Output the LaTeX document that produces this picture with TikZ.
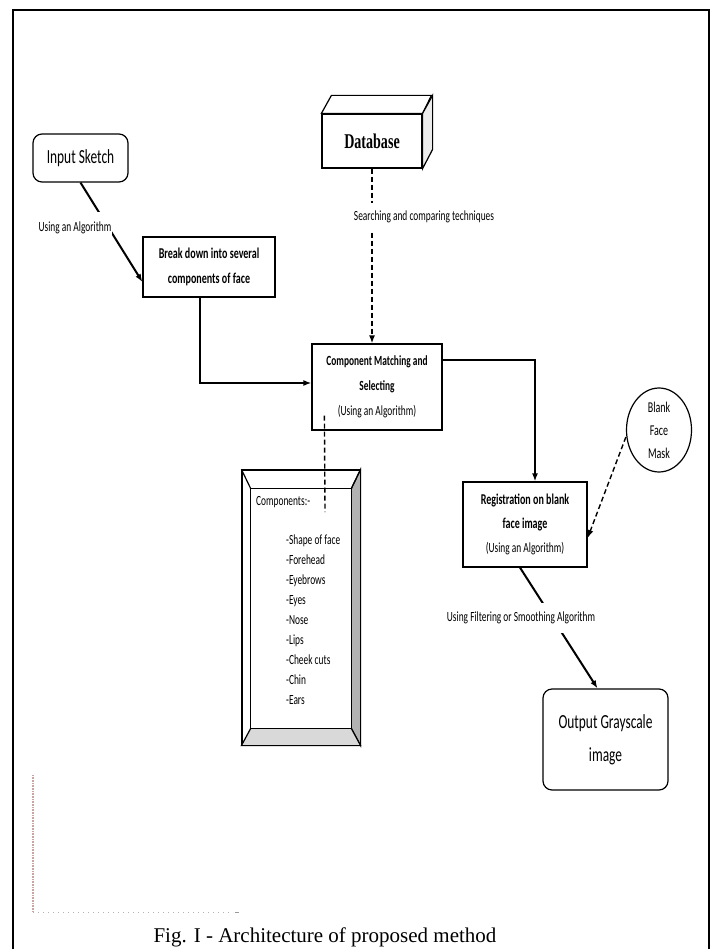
\documentclass[tikz,border=0pt]{standalone}
\usepackage{fontspec}
\setmainfont{Carlito}
\newfontfamily\calf[FakeStretch=0.67]{Carlito}
\newfontfamily\timesf[FakeStretch=0.67]{Liberation Serif}
\newfontfamily\capf{Liberation Serif}
\usetikzlibrary{arrows.meta,shapes.geometric,calc}

\begin{document}
\begin{tikzpicture}[x=1pt,y=-1pt,
  box/.style={draw, line width=1.2pt, inner sep=0pt, align=center},
  rbox/.style={box, rounded corners=9pt},
  tip/.style={-{Latex[length=8pt,width=6pt]}},
  flow/.style={tip, line width=2pt},
  dflow/.style={tip, line width=1.4pt, dash pattern=on 5pt off 3pt},
  dline/.style={line width=1.4pt, dash pattern=on 5pt off 3pt},
  lbl/.style={fill=white, inner xsep=1pt, font=\calf\fontsize{14}{16}\selectfont},
  item/.style={anchor=base west, inner sep=0pt, font=\calf\fontsize{14}{16}\selectfont}]
\useasboundingbox (0,0) rectangle (714,949);

% page frame
\draw[line width=2.5pt] (13,949) -- (13,10) -- (709,10) -- (709,949);

% boxes
\node[rbox, minimum width=95pt, minimum height=48pt,
      font=\calf\fontsize{20}{24}\selectfont] (inp) at (80.5,158) {Input Sketch};

\node[box, minimum width=132pt, minimum height=60pt,
      font=\calf\bfseries\fontsize{15}{25}\selectfont] (brk) at (209,267)
      {Break down into several\\components of face};

% database block with top and side faces
\node[box, fill=white, minimum width=100pt, minimum height=54pt,
      font=\timesf\bfseries\fontsize{21}{24}\selectfont] (db) at (372,141) {Database};
\draw[line width=1.2pt, fill=white] (db.north west) -- ++(10,-18) -- ++(100,0)
      -- (db.north east) -- cycle;
\draw[line width=1.2pt, fill=gray!15] (db.north east) -- ++(10,-18) -- ++(0,54)
      -- (db.south east) -- cycle;

\node[box, minimum width=130pt, minimum height=86pt,
      font=\calf\fontsize{14}{25}\selectfont] (cm) at (377,387)
      {\textbf{Component Matching and}\\\textbf{Selecting}\\(Using an Algorithm)};

\node[box, minimum width=124pt, minimum height=85pt,
      font=\calf\fontsize{15}{24}\selectfont] (reg) at (525,524.5)
      {\textbf{Registration on blank}\\\textbf{face image}\\{\fontsize{14}{24}\selectfont(Using an Algorithm)}};

\node[ellipse, draw, line width=1.2pt, minimum width=65pt, minimum height=84pt,
      inner sep=0pt, align=center, font=\calf\fontsize{15}{23}\selectfont]
      (mask) at (659,430) {Blank\\Face\\Mask};

\node[rbox, minimum width=125pt, minimum height=101pt,
      font=\calf\fontsize{20}{33}\selectfont] (out) at (605.5,739.5)
      {Output Grayscale\\image};

% bevelled components panel
\node[draw, line width=1.2pt, minimum width=118pt, minimum height=275pt,
      inner sep=0pt] (comp) at (301,607.5) {};
\node[minimum width=100pt, minimum height=239pt, inner sep=0pt]
      (compin) at (301,608.5) {};
\draw[line width=1.2pt, fill=gray!60] (comp.north east) -- (comp.south east)
      -- (compin.south east) -- (compin.north east) -- cycle;
\draw[line width=1.2pt, fill=gray!30] (comp.south west) -- (comp.south east)
      -- (compin.south east) -- (compin.south west) -- cycle;
\draw[line width=1.2pt] (comp.north west) -- (compin.north west)
      (comp.north east) -- (compin.north east);
\draw[line width=1.2pt, fill=white] (compin.north west) rectangle (compin.south east);

\node[item] (comphead) at (256,505) {Components:-};
\foreach \t [count=\i from 0] in {-Shape of face,-Forehead,-Eyebrows,-Eyes,-Nose,-Lips,-Cheek cuts,-Chin,-Ears}
  \node[item] (ci\i) at (286,544+20*\i) {\t};

% connectors
\coordinate (tapend) at (325,512);
\draw[dline] ([xshift=13pt,yshift=15pt]cm.south west) -- (tapend);

\draw[flow] (inp.south) -- ([yshift=-15pt]brk.west);
\draw[flow, line width=2.6pt] ([xshift=-9pt]brk.south) |- ([yshift=4pt]cm.west);
\draw[dflow] (db.south) -- (db.south |- cm.north);
\draw[flow, line width=2.6pt] ([yshift=27pt]cm.east) -| ([xshift=10pt]reg.north);
\draw[dflow] ([yshift=-7pt]mask.west) -- ([yshift=-13.5pt]reg.east);
\draw[flow] ([xshift=-5pt]reg.south) -- ([xshift=-8pt]out.north);

% connector labels
\node[lbl, inner ysep=10pt] (l1) at (75,228) {Using an Algorithm};
\node[lbl, inner ysep=8pt] (l2) at (424,217) {Searching and comparing techniques};
\node[lbl, inner ysep=9pt] (l3) at (521,618) {Using Filtering or Smoothing Algorithm};

% faint dotted frame remnant
\draw[draw={rgb,255:red,200;green,165;blue,165}, line width=1.5pt,
      dash pattern=on 0.8pt off 0.8pt] (33,775) -- (33,912);
\draw[gray!60, line width=1pt, dash pattern=on 1pt off 4pt] (33,912) -- (233,912);
\draw[gray!80, line width=1pt] (235,912) -- (239,912);

% caption
\node[anchor=base, inner sep=0pt, font=\capf\fontsize{21}{24}\selectfont]
      (cap) at (325,942) {Fig. I - Architecture of proposed method};
\end{tikzpicture}
\end{document}
